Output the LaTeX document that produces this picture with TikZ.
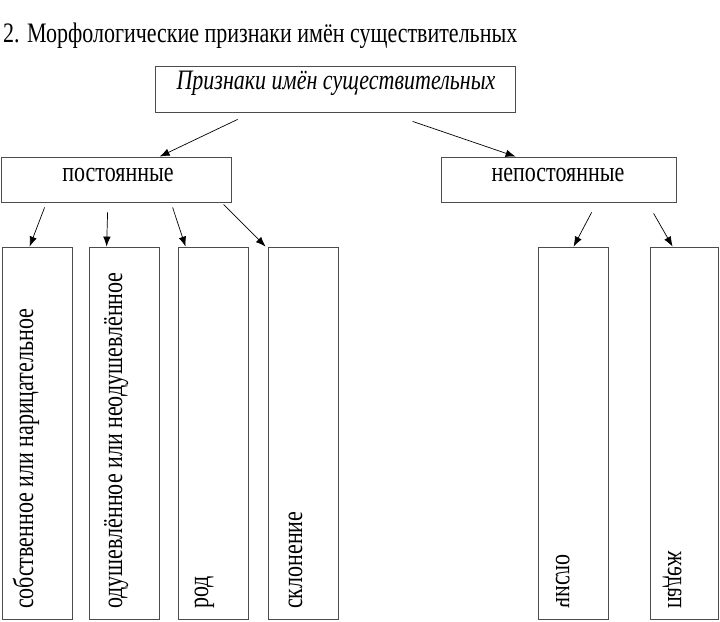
\documentclass[tikz,border=0pt]{standalone}
\usepackage{fontspec}
\setmainfont{Liberation Serif}
\usetikzlibrary{arrows.meta,calc}
\begin{document}
\begin{tikzpicture}[x=1pt,y=-1pt,
  box/.style={draw=black!70,line width=0.8pt,inner sep=0pt,rectangle},
  txt/.style={inner sep=0pt,font=\fontsize{22}{26}\selectfont},
  htxt/.style={txt,yscale=1.28},
  arr/.style={draw=black,line width=0.7pt,-{Latex[length=10pt,width=7.5pt]}},
  vup/.style={txt,rotate=90,yscale=1.3,anchor=base west},
  vmir/.style={txt,rotate=90,yscale=-1.3,anchor=base west}]
\useasboundingbox[fill=white] (0,0) rectangle (720,621);
% title
\node[htxt,anchor=base west] (title) at (3,42) {2. Морфологические признаки имён существительных};
% top box
\node[box,minimum width=360pt,minimum height=46pt] (top) at (335,89) {};
\node[htxt,anchor=base,font=\fontsize{22}{26}\selectfont\itshape] (toptxt) at (336,89) {Признаки имён существительных};
% second level
\node[box,minimum width=230pt,minimum height=45pt] (post) at (116,179.5) {};
\node[htxt,anchor=base] (posttxt) at (118,181) {постоянные};
\node[box,minimum width=235pt,minimum height=45pt] (nepost) at (558.5,179.5) {};
\node[htxt,anchor=base] (neposttxt) at (558,181) {непостоянные};
% bottom boxes
\node[box,minimum width=70pt,minimum height=372pt] (b1) at (37,433) {};
\node[box,minimum width=70pt,minimum height=372pt] (b2) at (124,433) {};
\node[box,minimum width=70pt,minimum height=372pt] (b3) at (213,433) {};
\node[box,minimum width=70pt,minimum height=372pt] (b4) at (303,433) {};
\node[box,minimum width=70pt,minimum height=372pt] (b5) at (573,433) {};
\node[box,minimum width=68pt,minimum height=372pt] (b6) at (684,433) {};
\node[vup] (t1) at (33,609) {собственное или нарицательное};
\node[vup] (t2) at (122,609) {одушевлённое или неодушевлённое};
\node[vup] (t3) at (208,609) {род};
\node[vup] (t4) at (302,609) {склонение};
\node[vmir] (t5) at (556,609) {число};
\node[vmir] (t6) at (668,609) {падеж};
% arrows
\coordinate (s1) at ($(top.south west)+(83,7)$);
\coordinate (s2) at ($(top.south west)+(258,9)$);
\draw[arr] (s1) -- ($(post.north west)+(159,0)$);
\draw[arr] (s2) -- ($(nepost.north west)+(75,0)$);
\coordinate (p1) at ($(post.south west)+(44,5)$);
\coordinate (p2) at ($(post.south west)+(107,10)$);
\coordinate (p3) at ($(post.south west)+(172,5)$);
\coordinate (p4) at ($(post.south west)+(223,2)$);
\draw[arr] (p1) -- ($(b1.north west)+(28,0)$);
\draw[arr] (p2) -- ($(b2.north west)+(18,0)$);
\draw[arr] (p3) -- ($(b3.north west)+(8,0)$);
\draw[arr] (p4) -- ($(b4.north west)+(-2,0)$);
\coordinate (n1) at ($(nepost.south west)+(151,10)$);
\coordinate (n2) at ($(nepost.south west)+(213,11)$);
\draw[arr] (n1) -- ($(b5.north west)+(36,0)$);
\draw[arr] (n2) -- ($(b6.north west)+(23,0)$);
\end{tikzpicture}
\end{document}
